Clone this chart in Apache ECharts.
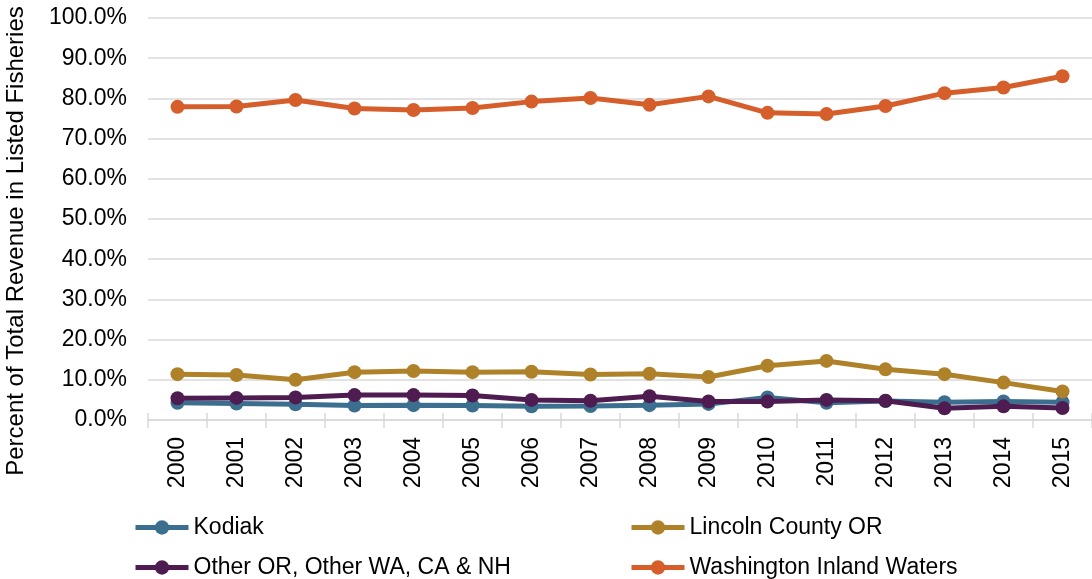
<!DOCTYPE html>
<html>
<head>
<meta charset="utf-8">
<script src="https://cdn.jsdelivr.net/npm/echarts@6/dist/echarts.min.js"></script>
<style>html,body{margin:0;padding:0;background:#fff;}#c{width:1092px;height:579px;}</style>
</head>
<body>
<div id="c"></div>
<script>
const years = ['2000','2001','2002','2003','2004','2005','2006','2007','2008','2009','2010','2011','2012','2013','2014','2015'];
const kodiak = [4.3, 4.1, 3.9, 3.6, 3.7, 3.6, 3.4, 3.5, 3.7, 4.0, 5.6, 4.3, 4.7, 4.4, 4.6, 4.4];
const lincoln = [11.4, 11.2, 10.0, 11.9, 12.2, 11.9, 12.0, 11.3, 11.5, 10.7, 13.5, 14.7, 12.6, 11.4, 9.3, 7.1];
const other = [5.4, 5.5, 5.6, 6.2, 6.2, 6.1, 5.0, 4.8, 5.9, 4.6, 4.6, 5.0, 4.8, 2.9, 3.4, 3.0];
const washington = [77.9, 78.0, 79.6, 77.5, 77.1, 77.6, 79.2, 80.1, 78.4, 80.5, 76.4, 76.1, 78.1, 81.3, 82.7, 85.5];
const yTicks = [0, 10, 20, 30, 40, 50, 60, 70, 80, 90, 100];
const yTitle = 'Percent of Total Revenue in Listed Fisheries';

const names = ['Kodiak', 'Lincoln County OR', 'Other OR, Other WA, CA & NH', 'Washington Inland Waters'];
const colors = ['#3C6E8F', '#AF8229', '#4E1C51', '#D55E2B'];
const dataSets = [kodiak, lincoln, other, washington];
const FONT = '"Liberation Sans", Arial, sans-serif';
const FS = 23;

const chart = echarts.init(document.getElementById('c'), null, {renderer: 'canvas'});

const legendPos = [
  {left: 133, top: 516},
  {left: 629, top: 516},
  {left: 133, top: 556},
  {left: 629, top: 556}
];

const option = {
  animation: false,
  backgroundColor: '#fff',
  textStyle: {fontFamily: FONT},
  grid: {left: 148, top: 18, width: 952, height: 402, containLabel: false},
  graphic: [{
    type: 'text',
    x: 16,
    y: 241,
    rotation: Math.PI / 2,
    style: {
      text: yTitle,
      fill: '#000',
      font: '24px ' + FONT,
      textAlign: 'center',
      textVerticalAlign: 'middle'
    }
  }],
  legend: names.map((n, i) => ({
    data: [n],
    left: legendPos[i].left,
    top: legendPos[i].top,
    itemWidth: 53,
    itemHeight: 18,
    itemGap: 0,
    padding: 0,
    lineStyle: {width: 5},
    textStyle: {fontSize: FS, color: '#000', fontFamily: FONT}
  })),
  xAxis: [{
    type: 'category',
    data: years,
    boundaryGap: true,
    axisLine: {show: true, lineStyle: {color: '#d9d9d9', width: 1.5}},
    axisTick: {show: true, alignWithLabel: false, length: 8, lineStyle: {color: '#d9d9d9', width: 1.5}},
    axisLabel: {rotate: 90, fontSize: FS, color: '#000', margin: 17, fontFamily: FONT, interval: 0},
    splitLine: {show: false}
  }, {
    type: 'category',
    data: years,
    position: 'bottom',
    boundaryGap: true,
    axisLine: {show: false},
    axisTick: {show: true, inside: true, length: 7, lineStyle: {color: '#d9d9d9', width: 1.5}},
    axisLabel: {show: false},
    splitLine: {show: false}
  }],
  yAxis: {
    type: 'value',
    min: yTicks[0],
    max: yTicks[yTicks.length - 1],
    interval: 10,
    axisLine: {show: false},
    axisTick: {show: false},
    axisLabel: {fontSize: FS, color: '#000', margin: 21, fontFamily: FONT, formatter: v => v.toFixed(1) + '%'},
    splitLine: {show: true, lineStyle: {color: '#d9d9d9', width: 1.5}}
  },
  series: names.map((n, i) => ({
    name: n,
    type: 'line',
    data: dataSets[i],
    color: colors[i],
    symbol: 'circle',
    symbolSize: 14,
    lineStyle: {width: 5, color: colors[i]},
    itemStyle: {color: colors[i]},
    z: 2 + i
  }))
};
chart.setOption(option);
</script>
</body>
</html>
